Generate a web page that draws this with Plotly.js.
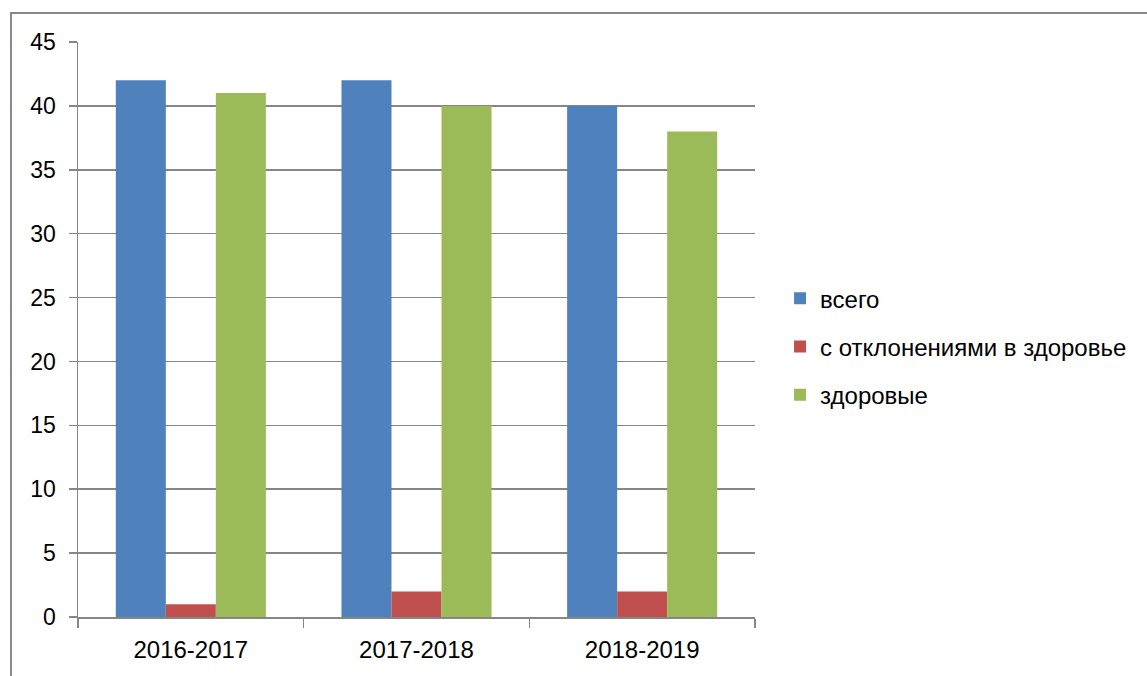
<!DOCTYPE html>
<html>
<head>
<meta charset="utf-8">
<script src="https://cdn.plot.ly/plotly-3.0.1.min.js"></script>
<style>
html,body{margin:0;padding:0;background:#fff;overflow:hidden;}
#frame{position:absolute;left:10px;top:12px;width:1200px;height:700px;border-left:2px solid #888;border-top:2px solid #888;}
#chart{position:absolute;left:0;top:0;width:1147px;height:676px;}
</style>
</head>
<body>
<div id="frame"></div>
<div id="chart"></div>
<script>
const categories = ["2016-2017", "2017-2018", "2018-2019"];
const seriesNames = ["всего", "с отклонениями в здоровье", "здоровые"];
const vsego = [42, 42, 40];
const otkl = [1, 2, 2];
const zdorovye = [41, 40, 38];
const yTicks = [0, 5, 10, 15, 20, 25, 30, 35, 40, 45];

const colors = ["#4F81BD", "#C0504D", "#9BBB59"];
const values = [vsego, otkl, zdorovye];
const fam = "Liberation Sans, Arial, sans-serif";
const xfont = {family: fam, size: 24, color: "#000"};
const yfont = {family: fam, size: 23, color: "#000"};

const traces = values.map((v, i) => ({
  type: "bar",
  x: categories,
  y: v,
  name: seriesNames[i],
  legendgroup: "g" + i,
  marker: {color: colors[i], line: {width: 0}},
  hoverinfo: "x+y+name"
}));

const layout = {
  width: 1147, height: 676,
  margin: {l: 78, r: 392, t: 41.5, b: 59, pad: 0},
  paper_bgcolor: "rgba(0,0,0,0)",
  plot_bgcolor: "rgba(0,0,0,0)",
  barmode: "group",
  bargap: 0.335,
  bargroupgap: 0,
  font: xfont,
  xaxis: {
    type: "category",
    tickson: "boundaries",
    ticks: "outside", ticklen: 9, tickcolor: "#868686", tickwidth: 1.5,
    showline: true, linecolor: "#868686", linewidth: 1.5,
    showgrid: false, zeroline: false,
    tickfont: xfont,
    ticklabelstandoff: 11
  },
  yaxis: {
    range: [0, 45],
    tickvals: yTicks,
    ticktext: yTicks.map(String),
    ticks: "outside", ticklen: 8, tickcolor: "#868686", tickwidth: 1.5,
    showline: true, linecolor: "#868686", linewidth: 1.5,
    showgrid: true, gridcolor: "#868686", gridwidth: 1.5,
    zeroline: false,
    tickfont: yfont,
    ticklabelstandoff: 8
  },
  legend: {
    x: 1.037, xanchor: "left",
    y: 0.47, yanchor: "middle",
    font: xfont,
    traceorder: "grouped",
    tracegroupgap: 14,
    itemwidth: 30,
    bgcolor: "rgba(0,0,0,0)"
  },
  showlegend: true
};

Plotly.newPlot("chart", traces, layout, {displayModeBar: false, staticPlot: true});
</script>
</body>
</html>
